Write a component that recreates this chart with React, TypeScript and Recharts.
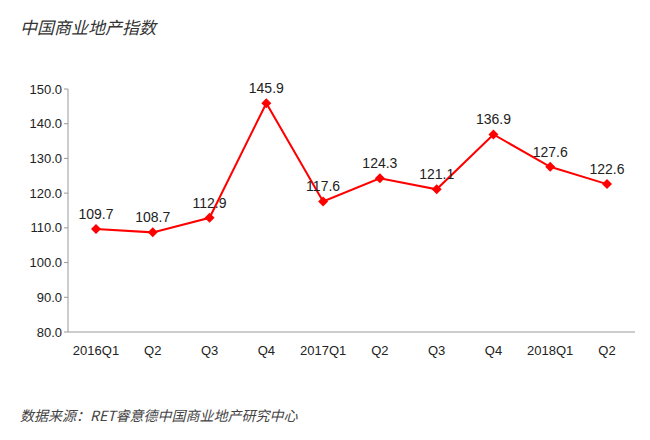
import React from "react";
import { LineChart, Line, XAxis, YAxis, LabelList } from "recharts";

const categories = ["2016Q1", "Q2", "Q3", "Q4", "2017Q1", "Q2", "Q3", "Q4", "2018Q1", "Q2"];
const values = [109.7, 108.7, 112.9, 145.9, 117.6, 124.3, 121.1, 136.9, 127.6, 122.6];
const yTicks = [80, 90, 100, 110, 120, 130, 140, 150];

const data = categories.map((c, i) => ({ c, key: i, v: values[i] }));

const Diamond = (p: any) => {
  const { cx, cy } = p;
  if (cx == null) return null;
  const s = 5;
  return <path d={`M${cx},${cy - s}L${cx + s},${cy}L${cx},${cy + s}L${cx - s},${cy}Z`} fill="#f00" />;
};

export default function App() {
  const cjk = "'Noto Sans CJK SC', sans-serif";
  const latin = "'Liberation Sans', Arial, sans-serif";
  return (
    <div style={{ position: "fixed", left: 0, top: 0, width: 650, height: 440, background: "#fff", fontFamily: latin }}>
      <div style={{ position: "absolute", left: 20, top: 14, fontSize: 17, fontStyle: "italic", color: "#333", fontFamily: cjk }}>中国商业地产指数</div>
      <LineChart width={650} height={440} data={data} margin={{ top: 89, right: 15, bottom: 78, left: 8 }}>
        <XAxis dataKey="key" tickFormatter={(i: number) => categories[i]} stroke="#999" tick={{ fill: "#222", fontSize: 13 }} tickLine={false} interval={0} padding={{ left: 28, right: 28 }} tickMargin={8} />
        <YAxis domain={[80, 150]} ticks={yTicks} width={60} tickFormatter={(v: number) => v.toFixed(1)} stroke="#999" tick={{ fill: "#222", fontSize: 13 }} tickLine={{ stroke: "#999" }} tickSize={4} />
        <Line dataKey="v" stroke="#f00" strokeWidth={2} dot={<Diamond />} isAnimationActive={false}>
          <LabelList dataKey="v" position="top" offset={10} formatter={(v: number) => v.toFixed(1)} style={{ fill: "#222", fontSize: 14 }} />
        </Line>
      </LineChart>
      <div style={{ position: "absolute", left: 20, top: 405, fontSize: 14, fontStyle: "italic", color: "#444", fontFamily: cjk }}>数据来源：RET睿意德中国商业地产研究中心</div>
    </div>
  );
}
